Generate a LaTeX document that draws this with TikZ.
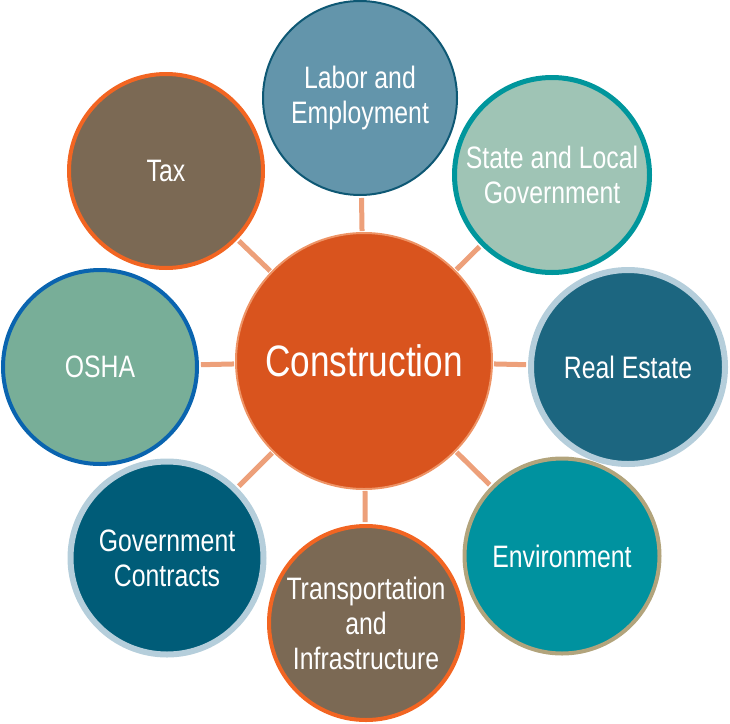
\documentclass[tikz,border=0pt]{standalone}
\usepackage{fontspec}
\setmainfont{Liberation Sans}[FakeStretch=0.8]
\definecolor{mitte}{HTML}{D9541E}
\definecolor{mitterand}{HTML}{EE9466}
\definecolor{linkc}{HTML}{EDA07A}
\definecolor{braun}{HTML}{7B6954}
\definecolor{orangerand}{HTML}{F26522}
\definecolor{laborc}{HTML}{6395AB}
\definecolor{laborrand}{HTML}{0E5874}
\definecolor{statec}{HTML}{9FC4B5}
\definecolor{staterand}{HTML}{00969C}
\definecolor{realc}{HTML}{1C6680}
\definecolor{hellblau}{HTML}{B5CEDB}
\definecolor{envc}{HTML}{00929F}
\definecolor{envrand}{HTML}{B2A47C}
\definecolor{govc}{HTML}{005C78}
\definecolor{oshac}{HTML}{78AE98}
\definecolor{oshrand}{HTML}{0A64AF}

\begin{document}
\begin{tikzpicture}[x=1pt,y=-1pt,
  kreis/.style={circle,inner sep=0pt,minimum size=194pt,line width=4pt,text=white,align=center,font=\fontsize{31}{35}\selectfont},
  link/.style={line width=5pt,draw=linkc}]
  \useasboundingbox (0,0) rectangle (730,723);
  % Mitte
  \node[kreis,fill=mitte,draw=mitterand,line width=2pt,minimum size=256pt,font=\fontsize{44}{48}\selectfont] (constr) at (364,361) {Construction};
  % aeussere Kreise
  \node[kreis,fill=laborc,draw=laborrand,line width=2pt] (labor) at (360,98) {Labor and\\Employment};
  \node[kreis,fill=statec,draw=staterand,line width=5pt,minimum size=195pt] (state) at (552,175) {State and Local\\Government};
  \node[kreis,fill=realc,draw=hellblau,line width=6pt] (real) at (628,367) {Real Estate};
  \node[kreis,fill=envc,draw=envrand,minimum size=195pt] (env) at (562,556) {Environment};
  \node[kreis,fill=braun,draw=orangerand] (trans) at (366,623) {Transportation\\and\\Infrastructure};
  \node[kreis,fill=govc,draw=hellblau,line width=6pt,minimum size=193pt] (gov) at (167,558) {Government\\Contracts};
  \node[kreis,fill=oshac,draw=oshrand] (osha) at (100,367) {OSHA};
  \node[kreis,fill=braun,draw=orangerand] (tax) at (166,171) {Tax};
  % Verbindungen
  \foreach \k in {labor,state,real,env,trans,gov,osha,tax}
    \draw[link,shorten <=1pt,shorten >=2pt] (constr) -- (\k);
\end{tikzpicture}
\end{document}
